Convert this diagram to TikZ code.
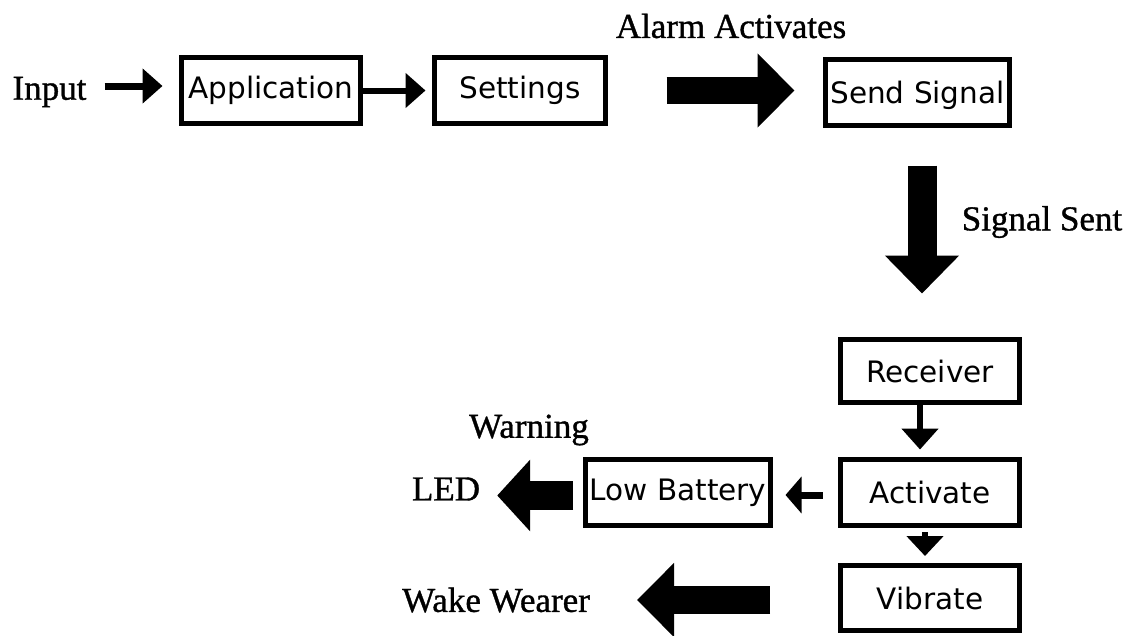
\documentclass[tikz,border=0pt]{standalone}
\usepackage{fontspec}
\setmainfont{Liberation Serif}
\newfontfamily\boxfont{DejaVu Sans}
\newfontfamily\lblfont{Liberation Serif}[FakeBold=1]
\usetikzlibrary{arrows.meta,calc}
\begin{document}
\begin{tikzpicture}[x=1pt,y=-1pt,
  box/.style={draw,line width=5pt,inner sep=0pt,font=\boxfont\fontsize{29.5}{32}\selectfont},
  lbl/.style={inner sep=0pt,font=\lblfont\fontsize{35}{38}\selectfont},
  conn/.style={line cap=butt}]
\useasboundingbox (0,0) rectangle (1129,635);
% boxes
\node[box,minimum width=179pt,minimum height=66pt] (app) at (271,90.5) {Application};
\node[box,minimum width=171pt,minimum height=66pt] (set) at (520,90.5) {Settings};
\node[box,minimum width=184pt,minimum height=66pt,text depth=-5pt] (send) at (917.5,92.5) {Send Signal};
\node[box,minimum width=179pt,minimum height=63pt] (recv) at (930,371) {Receiver};
\node[box,minimum width=179pt,minimum height=66pt] (act) at (930,492.5) {Activate};
\node[box,minimum width=179pt,minimum height=65pt] (vib) at (930,598) {Vibrate};
\node[box,minimum width=185pt,minimum height=66pt] (low) at (678,492.5) {Low Battery};
% labels
\node[lbl] (in) at (49.5,92) {Input};
\node[lbl] (alarm) at (731,26) {Alarm Activates};
\node[lbl] (sent) at (1042,222) {Signal Sent};
\node[lbl] (warn) at (529,430) {Warning};
\node[lbl] (led) at (446,489) {LED};
\node[lbl] (wake) at (496,600) {Wake Wearer};
% connectors
\draw[conn,line width=7pt,-{Triangle[length=20pt,width=34pt]},shorten <=18pt,shorten >=16.5pt] ([yshift=4.5pt]in.east |- app.west) -- ([yshift=4.5pt]app.west);
\draw[conn,line width=6pt,-{Triangle[length=20pt,width=34pt]},shorten >=6.5pt] (app.east) -- (set.west);
\draw[conn,line width=27pt,-{Triangle[length=37pt,width=72pt]},shorten <=58.5pt,shorten >=28.5pt] (set.east) -- (send.west |- set.east);
\draw[conn,line width=29pt,-{Triangle[length=38pt,width=72pt]},shorten <=37.5pt,shorten >=43.5pt] ([xshift=4.5pt]send.south) -- ([xshift=4.5pt]send.south |- recv.north);
\draw[conn,line width=6pt,-{Triangle[length=21pt,width=36pt]},shorten >=7.5pt] ([xshift=-10pt]recv.south) -- ([xshift=-10pt]act.north);
\draw[conn,line width=7pt,-{Triangle[length=16pt,width=36pt]},shorten <=15.5pt,shorten >=12.5pt] ([yshift=-2.5pt]act.west) -- ([yshift=-2.5pt]low.east);
\draw[conn,line width=6pt,-{Triangle[length=20pt,width=36pt]},shorten <=4pt,shorten >=7pt] ([xshift=-5pt]act.south) -- ([xshift=-5pt]vib.north);
\draw[conn,line width=29pt,-{Triangle[length=33pt,width=70pt]},shorten <=10pt,shorten >=17pt] ([yshift=-3pt]low.west) -- ([yshift=-3pt]low.west -| led.east);
\draw[conn,line width=28pt,-{Triangle[length=37pt,width=72pt]},shorten <=68pt,shorten >=47pt] ([yshift=-2pt]vib.west) -- ([yshift=-2pt]vib.west -| wake.east);
\end{tikzpicture}
\end{document}
